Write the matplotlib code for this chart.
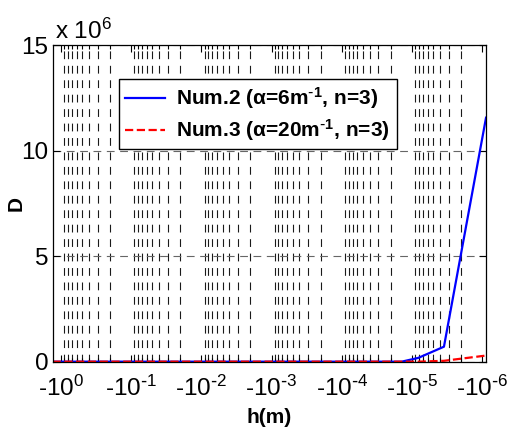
import numpy as np
import matplotlib
matplotlib.use("Agg")
import matplotlib.pyplot as plt
from matplotlib.ticker import FixedLocator, NullFormatter

plt.rcParams['font.family'] = ['Liberation Sans', 'DejaVu Sans']
plt.rcParams['mathtext.default'] = 'regular'

# |h| in metres (the axis shows -|h|)
h2 = [1.32, 1e-1, 1e-2, 1e-3, 1e-4, 1.4e-5, 8.1e-6, 3.5e-6, 8.8e-7]
d2 = [0.0, 0.0, 0.0, 0.0, 0.0, 0.0, 0.18e6, 0.71e6, 11.57e6]
h3 = [1.32, 1e-1, 1e-2, 1e-3, 1e-4, 1.4e-5, 8.1e-6, 3.5e-6, 8.8e-7]
d3 = [0.0, 0.0, 0.0, 0.0, 0.0, 0.0, 0.0, 0.04e6, 0.29e6]

label2 = "Num.2 (\u03b1=6m$^{\\text{-}1}$, n=3)\u00a0"
label3 = "Num.3 (\u03b1=20m$^{\\text{-}1}$, n=3)\u00a0"

xticks = [1, 1e-1, 1e-2, 1e-3, 1e-4, 1e-5, 1e-6]
xticklabels = ["-10$^{0}$", "-10$^{\\text{-}1}$", "-10$^{\\text{-}2}$",
               "-10$^{\\text{-}3}$", "-10$^{\\text{-}4}$", "-10$^{\\text{-}5}$",
               "-10$^{\\text{-}6}$"]
yticks = [0, 5e6, 10e6, 15e6]
yticklabels = ["0", "5", "10", "15"]

fig = plt.figure(figsize=(5.1, 4.28), dpi=100)
ax = fig.add_axes([0.103, 0.155, 0.850, 0.739])

ax.plot(h2, d2, "-", color="#0000ff", lw=1.6, label=label2)
ax.plot(h3, d3, "--", color="#ff0000", lw=1.6, label=label3)

ax.set_xscale("log")
ax.set_xlim(h2[0], h2[-1])
ax.set_ylim(0, 15e6)

ax.set_xticks(xticks)
ax.set_xticklabels(xticklabels, fontsize=17.5)
minors = [k * 10.0 ** e for e in range(-6, 0) for k in range(2, 10)]
ax.xaxis.set_minor_locator(FixedLocator(minors))
ax.xaxis.set_minor_formatter(NullFormatter())
ax.set_yticks(yticks)
ax.set_yticklabels(yticklabels, fontsize=17.5)

ax.tick_params(which="both", direction="in", top=True, right=True, width=0.8)
ax.tick_params(which="major", length=5)
ax.tick_params(which="minor", length=3)
ax.tick_params(axis="x", which="major", pad=10)
ax.tick_params(axis="y", which="major", pad=3)

ax.grid(True, which="minor", axis="x", color="0.1", lw=0.8, ls=(0, (7, 6)))
ax.grid(True, which="major", axis="y", color="0.4", lw=0.8, ls=(0, (7, 5)))

for s in ax.spines.values():
    s.set_linewidth(0.9)

ax.set_xlabel("h(m)", fontsize=15, fontweight="bold", va="center")
ax.xaxis.set_label_coords(0.5, -0.175)
ax.set_ylabel("D", fontsize=15, fontweight="bold", va="center")
ax.yaxis.set_label_coords(-0.085, 0.5)
ax.text(0.005, 1.005, "x 10$^{6}$", transform=ax.transAxes, fontsize=17.5,
        ha="left", va="bottom")

leg = ax.legend(loc="upper left", bbox_to_anchor=(0.153, 0.894), borderaxespad=0,
                prop={"weight": "bold", "size": 15}, fancybox=False,
                edgecolor="black", framealpha=1, handlelength=1.9,
                handletextpad=0.55, labelspacing=0.3, borderpad=0.3)
leg.get_frame().set_linewidth(1.0)

fig.savefig("out.png", dpi=100)
